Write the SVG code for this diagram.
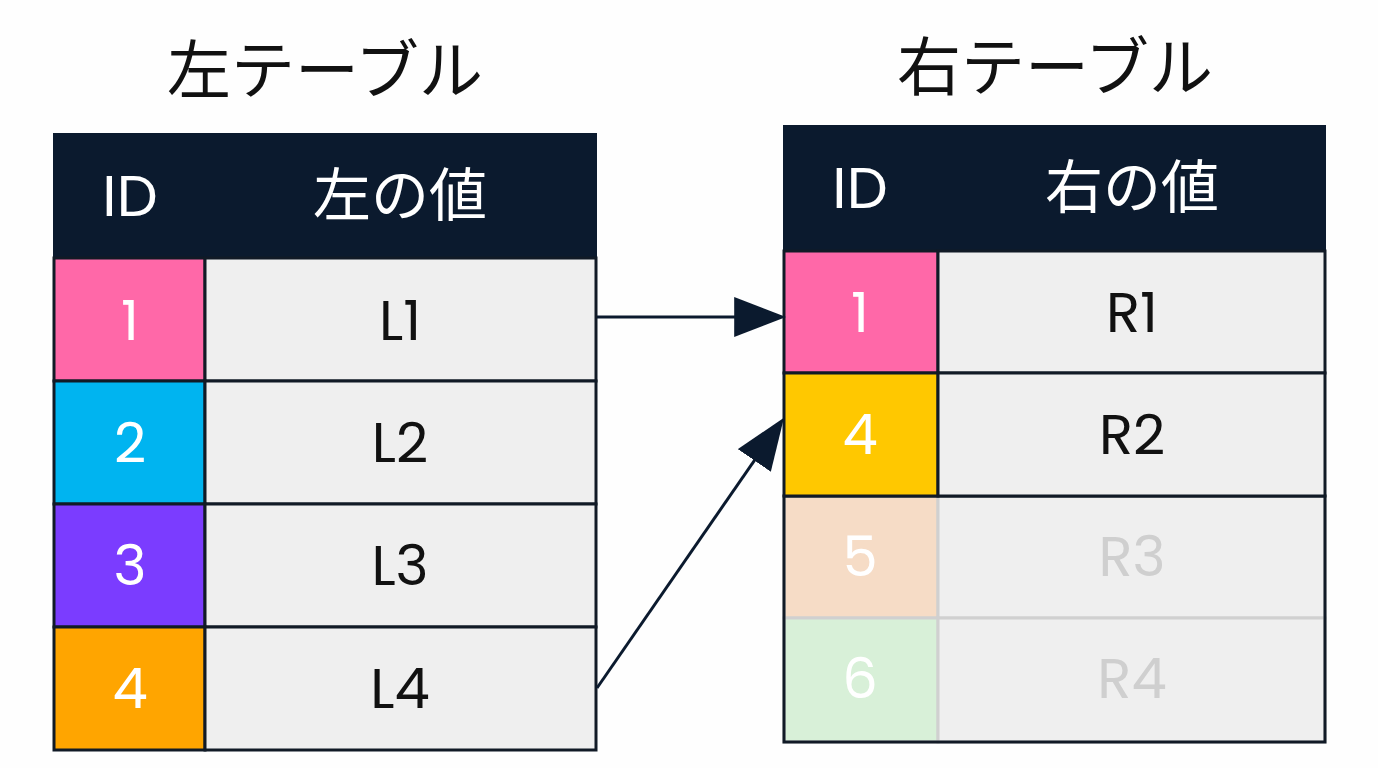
<svg xmlns="http://www.w3.org/2000/svg" width="1378" height="768" viewBox="0 0 1378 768">
<style>
.t{font-family:"Poppins","Noto Sans","Noto Sans CJK JP",sans-serif;text-anchor:middle;dominant-baseline:central}
.title{font-size:64px;fill:#111}
.h{font-size:58px;fill:#fff}
.c{font-size:56px}
.cell{stroke:#111a26;stroke-width:3}
.fade{stroke:#d0d0d0;stroke-width:3}
</style>
<defs><marker id="a" markerWidth="10" markerHeight="10" refX="9" refY="5" orient="auto" markerUnits="userSpaceOnUse" viewBox="0 0 10 10"><path d="M0,0 L10,5 L0,10 z" fill="#0b1a2e"/></marker>
<marker id="ah" viewBox="0 0 10 10" refX="9" refY="5" markerWidth="52" markerHeight="40" orient="auto" markerUnits="userSpaceOnUse" preserveAspectRatio="none"><path d="M0,0 L10,5 L0,10 z" fill="#0b1a2e"/></marker></defs>
<rect width="1378" height="768" fill="#fefefe"/>
<text class="t title" x="325" y="70">左テーブル</text>
<text class="t title" x="1055" y="67">右テーブル</text>
<g id="left">
<rect x="53" y="133" width="544" height="125" fill="#0b1a2e"/>
<text class="t h" x="130" y="195">ID</text><text class="t h" x="400" y="195">左の値</text>
<rect class="cell" x="54" y="258" width="151" height="123" fill="#ff68a8"/><rect class="cell" x="205" y="258" width="391" height="123" fill="#efefef"/>
<text class="t c" x="130" y="320" fill="#fff">1</text><text class="t c" x="400" y="320" fill="#111">L1</text>
<rect class="cell" x="54" y="381" width="151" height="123" fill="#00b4f0"/><rect class="cell" x="205" y="381" width="391" height="123" fill="#efefef"/>
<text class="t c" x="130" y="442" fill="#fff">2</text><text class="t c" x="400" y="442" fill="#111">L2</text>
<rect class="cell" x="54" y="504" width="151" height="123" fill="#7b3cff"/><rect class="cell" x="205" y="504" width="391" height="123" fill="#efefef"/>
<text class="t c" x="130" y="565" fill="#fff">3</text><text class="t c" x="400" y="565" fill="#111">L3</text>
<rect class="cell" x="54" y="627" width="151" height="123" fill="#ffa500"/><rect class="cell" x="205" y="627" width="391" height="123" fill="#efefef"/>
<text class="t c" x="130" y="688" fill="#fff">4</text><text class="t c" x="400" y="688" fill="#111">L4</text>
</g>
<g id="right">
<rect x="783" y="125" width="543" height="125" fill="#0b1a2e"/>
<text class="t h" x="860" y="187">ID</text><text class="t h" x="1132" y="187">右の値</text>
<rect class="fade" x="784" y="496" width="154" height="122" fill="#f6dcc6"/><rect class="fade" x="938" y="496" width="387" height="122" fill="#efefef"/>
<text class="t c" x="860" y="556" fill="#fff">5</text><text class="t c" x="1132" y="556" fill="#cfcfcf">R3</text>
<rect class="fade" x="784" y="618" width="154" height="124" fill="#d8f0d8"/><rect class="fade" x="938" y="618" width="387" height="124" fill="#efefef"/>
<text class="t c" x="860" y="678" fill="#fff">6</text><text class="t c" x="1132" y="678" fill="#cfcfcf">R4</text>
<rect x="784" y="496" width="541" height="246" fill="none" stroke="#111a26" stroke-width="3"/>
<rect class="cell" x="784" y="251" width="154" height="122" fill="#ff68a8"/><rect class="cell" x="938" y="251" width="387" height="122" fill="#efefef"/>
<text class="t c" x="860" y="312" fill="#fff">1</text><text class="t c" x="1132" y="312" fill="#111">R1</text>
<rect class="cell" x="784" y="373" width="154" height="123" fill="#ffc800"/><rect class="cell" x="938" y="373" width="387" height="123" fill="#efefef"/>
<text class="t c" x="860" y="434" fill="#fff">4</text><text class="t c" x="1132" y="434" fill="#111">R2</text>
</g>
<g id="connectors" stroke="#0b1a2e" stroke-width="3" fill="none">
<path d="M597,317 L781,317" marker-end="url(#ah)"/>
<path d="M597,688 L781,422" marker-end="url(#ah)"/>
</g>
</svg>
